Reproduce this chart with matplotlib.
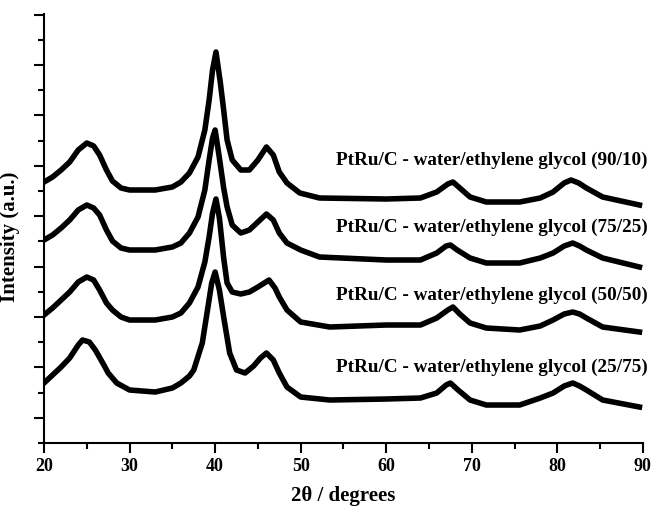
import matplotlib.pyplot as plt
from matplotlib.ticker import MultipleLocator, NullFormatter

plt.rcParams['font.family'] = ['Liberation Serif', 'DejaVu Serif']
plt.rcParams['font.weight'] = 'bold'

# XRD patterns (2theta in degrees, intensity in a.u., already stacked)
tt_9010 = [20, 21, 22, 23, 24, 25, 25.8, 26.5, 27.3, 28, 29, 30, 33, 35, 36, 37, 38, 38.8, 39.3,
           39.7, 40.1, 40.6, 41, 41.4, 42, 43, 44, 45, 46, 46.8, 47.5, 48.4, 49.9, 52.2, 60, 64,
           65.9, 67.2, 67.8, 68.6, 69.8, 71.7, 75.6, 78, 79.5, 80.8, 81.6, 82.5, 83.4, 85.3, 89.6]
i_9010 = [261, 266, 273, 281, 293, 300, 297, 288, 273, 262, 255, 253, 253, 256, 261, 270, 286, 313,
          343, 373, 391, 361, 333, 303, 283, 273, 273, 283, 296, 288, 271, 260, 250, 245, 244, 245,
          251, 259, 261, 255, 246, 241, 241, 245, 251, 260, 263, 260, 255, 246, 238]

tt_7525 = [20, 21, 22, 23, 24, 25, 25.8, 26.5, 27.3, 28, 29, 30, 33, 35, 36, 37, 38, 38.8, 39.3,
           39.7, 40, 40.5, 41, 41.4, 42, 43, 44, 45, 46, 46.8, 47.5, 48.4, 50, 52.2, 60, 64,
           65.9, 67, 67.5, 68.3, 69.8, 71.7, 75.6, 78, 79.5, 80.8, 81.8, 82.6, 83.4, 85.3, 89.6]
i_7525 = [203, 208, 215, 223, 233, 238, 235, 228, 213, 202, 195, 193, 193, 196, 200, 210, 226, 253,
          283, 305, 313, 285, 255, 236, 218, 210, 213, 221, 229, 223, 210, 200, 193, 186, 183, 183,
          190, 197, 198, 193, 185, 180, 180, 185, 190, 197, 200, 197, 193, 185, 176]

tt_5050 = [20, 21, 22, 23, 24, 25, 25.8, 26.5, 27.3, 28, 29, 30, 33, 35, 36, 37, 38, 38.8, 39.3,
           39.7, 40.1, 40.5, 41, 41.4, 42, 43, 44, 45, 46.3, 47, 47.5, 48.4, 50, 53.4, 60, 64,
           65.9, 67.2, 67.8, 68.6, 69.8, 71.7, 75.6, 78, 79.5, 80.8, 81.8, 82.6, 83.4, 85.3, 89.6]
i_5050 = [128, 135, 143, 151, 161, 166, 163, 153, 140, 133, 126, 123, 123, 126, 130, 140, 156, 181,
          206, 230, 244, 225, 185, 160, 151, 149, 151, 156, 163, 155, 146, 133, 121, 116, 118, 118,
          125, 133, 136, 129, 120, 115, 113, 117, 123, 129, 131, 129, 125, 116, 111]

tt_2575 = [20, 21, 22, 23, 24, 24.5, 25.3, 26, 27, 27.5, 28.5, 30, 33, 35, 36, 37, 37.5, 38.5, 39.2,
           39.6, 40, 40.5, 41, 41.7, 42.5, 43.5, 44.5, 45.3, 46, 46.8, 47.5, 48.4, 50, 53.4, 60,
           64, 65.9, 67, 67.5, 68.4, 69.8, 71.7, 75.6, 78, 79.5, 80.8, 81.8, 82.6, 83.4, 85.3, 89.6]
i_2575 = [60, 68, 76, 85, 98, 103, 101, 93, 78, 70, 60, 53, 51, 55, 60, 67, 73, 100, 138, 160, 171,
          153, 126, 90, 73, 70, 77, 85, 90, 83, 70, 56, 46, 43, 44, 45, 50, 58, 60, 53, 43, 38, 38,
          45, 50, 57, 60, 57, 53, 43, 36]

labels = ['PtRu/C - water/ethylene glycol (90/10)',
          'PtRu/C - water/ethylene glycol (75/25)',
          'PtRu/C - water/ethylene glycol (50/50)',
          'PtRu/C - water/ethylene glycol (25/75)']
label_y = [283, 216, 148, 76]

fig = plt.figure(figsize=(6.54, 5.07), dpi=100)
ax = fig.add_axes([0.0673, 0.1262, 0.9157, 0.8462])

for tt, inten in [(tt_9010, i_9010), (tt_7525, i_7525), (tt_5050, i_5050), (tt_2575, i_2575)]:
    ax.plot(tt, inten, color='black', lw=4.0, solid_joinstyle='round')

for lab, y in zip(labels, label_y):
    ax.text(90.56, y, lab, ha='right', va='center', fontsize=13.8, fontweight='bold', clip_on=False)

ax.set_xlim(20, 90)
ax.set_ylim(0, 429)
ax.xaxis.set_major_locator(MultipleLocator(10))
ax.xaxis.set_minor_locator(MultipleLocator(5))
ax.yaxis.set_major_locator(MultipleLocator(50.4, offset=25.2))
ax.yaxis.set_minor_locator(MultipleLocator(25.2))
ax.yaxis.set_major_formatter(NullFormatter())

for side in ['top', 'right']:
    ax.spines[side].set_visible(False)
for side in ['left', 'bottom']:
    ax.spines[side].set_linewidth(1.5)

ax.tick_params(which='major', length=7, width=1.5, labelsize=13)
ax.tick_params(which='minor', length=4, width=1.5)
for t in ax.get_xticklabels():
    t.set_fontweight('bold')

ax.set_xlabel('2θ / degrees', fontsize=15, fontweight='bold', labelpad=8)
ax.set_ylabel('Intensity (a.u.)', fontsize=15, fontweight='bold')
ax.yaxis.set_label_coords(-0.04, 0.48)

fig.savefig('out.png', dpi=100)
